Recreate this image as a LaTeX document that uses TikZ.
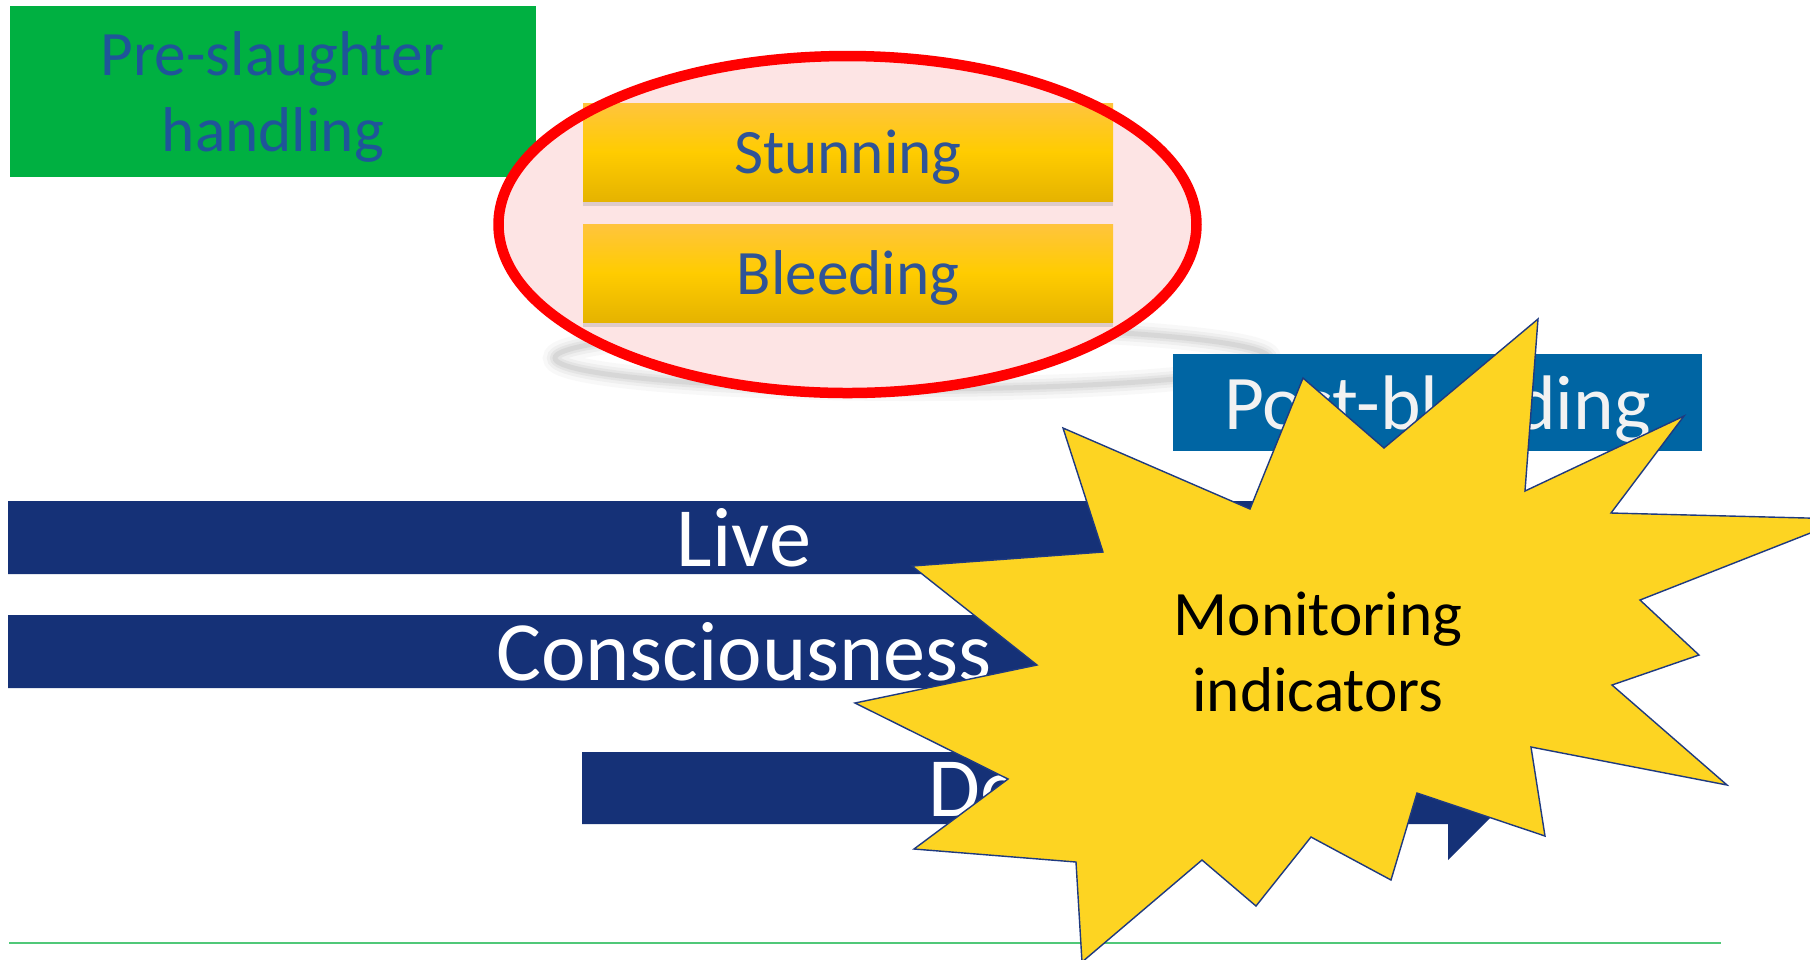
\documentclass[tikz,border=0pt]{standalone}
\usepackage{fontspec}
\setmainfont{Carlito}
\usetikzlibrary{shapes.geometric, positioning, shadows}
\definecolor{slidegreen}{HTML}{00B041}
\definecolor{labelblue}{HTML}{1F5599}
\definecolor{stunyellow}{HTML}{FFCC00}
\definecolor{stuntop}{HTML}{FFC43D}
\definecolor{stunbottom}{HTML}{E5B300}
\definecolor{stuntext}{HTML}{2F5496}
\definecolor{postblue}{HTML}{0065A3}
\definecolor{barnavy}{HTML}{153177}
\definecolor{burstyellow}{HTML}{FDD422}
\definecolor{burstedge}{HTML}{1F3A80}
\definecolor{linegreen}{HTML}{50C878}
\definecolor{focuspink}{HTML}{FDE4E4}

\tikzset{
  stagebox/.style={rectangle, inner sep=0pt, align=center, text depth=0pt, font=\fontsize{18}{21.6}\selectfont},
  stepbox/.style={stagebox, minimum width=53mm, minimum height=9.8mm, top color=stuntop, bottom color=stunbottom, middle color=stunyellow, text=stuntext, drop shadow={opacity=0.25, shadow xshift=0mm, shadow yshift=-0.5mm}},
  bartext/.style={font=\fontsize{24}{28.8}\selectfont, text=white, anchor=base, inner sep=0pt}
}

\begin{document}
\begin{tikzpicture}[x=0.1mm, y=-0.1mm]
\useasboundingbox (0,0) rectangle (1810,959);
\clip (0,0) rectangle (1810,959);
\fill[white] (0,0) rectangle (1810,959);

% Stage boxes
\node[stagebox, fill=slidegreen, minimum width=52.6mm, minimum height=17.1mm, text=labelblue] (preslaughter) at (273,91.5) {Pre-slaughter\\handling};

% Soft ring and highlighted stages
\foreach \w/\o in {2.4mm/0.05, 1.6mm/0.07, 1.0mm/0.09, 0.5mm/0.12}
  \draw[gray, line width=\w, opacity=\o] (912,358) ellipse [x radius=35.7mm, y radius=3.1mm];
\fill[focuspink] (847.5,224.5) ellipse [x radius=34.9mm, y radius=16.85mm];
\node[stepbox] (stunning) at (848,152) {Stunning};
\node[stepbox] (bleeding) at (848,273) {Bleeding};
\node[ellipse, draw=red, line width=1.05mm, inner sep=0pt, minimum width=69.8mm, minimum height=33.7mm] (focus) at (847.5,224.5) {};

\node[stagebox, fill=postblue, minimum width=52.9mm, minimum height=9.7mm, text=white!95!black, font=\fontsize{22}{26.4}\selectfont] (postbleeding) at (1437.5,402.5) {Post-bleeding};

% Time bars
\fill[barnavy] (8,501) -- (1448,501) -- (1448,465.5) -- (1520,537.5) -- (1448,609.5) -- (1448,574) -- (8,574) -- cycle;
\fill[barnavy] (8,615) -- (1448,615) -- (1448,579.5) -- (1520,651.5) -- (1448,723.5) -- (1448,688) -- (8,688) -- cycle;
\fill[barnavy] (582,752) -- (1448,752) -- (1448,716) -- (1520,788) -- (1448,860) -- (1448,824) -- (582,824) -- cycle;
\node[bartext] (live) at (744,566) {Live};
\node[bartext] (conscious) at (744,680) {Consciousness};
\node[bartext] (death) at (1032,816) {Death};

\draw[linegreen, line width=0.2mm] (9,943) -- (1721,943);

% Burst with indicators
\draw[fill=burstyellow, draw=burstedge, line width=0.4pt, line join=miter]
  (1538,319) -- (1525,491) -- (1684,416) -- (1611,513) -- (1846,519) -- (1640,600) -- (1699,655)
  -- (1612,685) -- (1727,785) -- (1531,747) -- (1545,836) -- (1417,793) -- (1391,880) -- (1311,837)
  -- (1256,906) -- (1202,860) -- (1082,962) -- (1076,862) -- (914,849) -- (1008,779) -- (855,703)
  -- (1037,665) -- (912,566) -- (1103,552) -- (1063,428) -- (1250,509) -- (1303,378) -- (1384,448) -- cycle;
\node[stagebox, text=black] (monitor) at (1318,652) {Monitoring\\indicators};
\end{tikzpicture}
\end{document}
